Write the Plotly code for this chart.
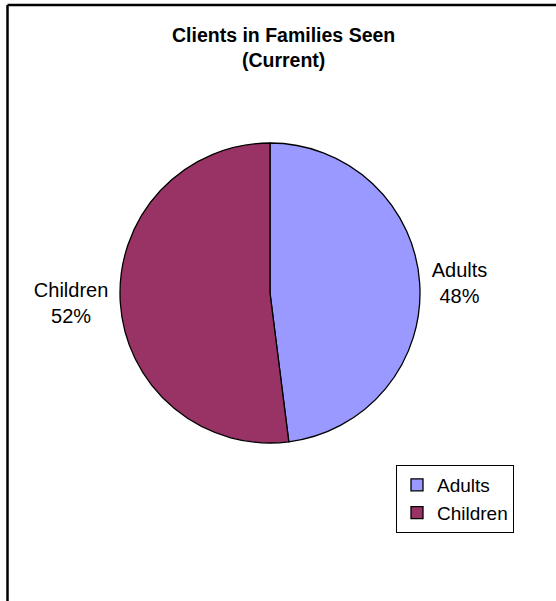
import plotly.graph_objects as go

categories = ["Adults", "Children"]
values = [48, 52]
colors = ["#9999FF", "#993366"]
title_lines = ["Clients in Families Seen", "(Current)"]

W, H = 556, 601
FONT = "Liberation Sans, Arial, sans-serif"

fig = go.Figure()
fig.add_trace(go.Pie(
    labels=categories,
    values=values,
    sort=False,
    direction="clockwise",
    rotation=0,
    marker=dict(colors=colors, line=dict(color="black", width=1.3)),
    texttemplate="%{label}<br>%{percent:.0%}",
    textposition="outside",
    outsidetextfont=dict(family=FONT, size=20, color="black"),
    domain=dict(x=[120 / W, 420 / W], y=[1 - 443 / H, 1 - 143 / H]),
    hoverinfo="label+percent",
    showlegend=True,
))

fig.update_layout(
    width=W, height=H,
    margin=dict(l=0, r=0, t=0, b=0),
    paper_bgcolor="white",
    plot_bgcolor="white",
    font=dict(family=FONT, color="black"),
    annotations=[dict(
        text="<b>" + "<br>".join(title_lines) + "</b>",
        x=283 / W, y=1 - 47 / H, xref="paper", yref="paper",
        xanchor="center", yanchor="middle", showarrow=False,
        font=dict(family=FONT, size=19.5, color="black"),
    )],
    legend=dict(
        x=396 / W, y=1 - 465 / H, xanchor="left", yanchor="top",
        bordercolor="black", borderwidth=1, bgcolor="white",
        font=dict(family=FONT, size=19, color="black"),
        itemwidth=30,
        tracegroupgap=0,
    ),
    shapes=[
        dict(type="line", xref="paper", yref="paper", x0=7.5 / W, x1=1.01, y0=1 - 5 / H, y1=1 - 5 / H,
             line=dict(color="black", width=2.5)),
        dict(type="line", xref="paper", yref="paper", x0=7.5 / W, x1=7.5 / W, y0=1 - 5 / H, y1=-0.01,
             line=dict(color="black", width=2.5)),
    ],
)

fig.write_html("out.html", config={"displayModeBar": False},
               post_script="document.body.style.margin='0';")
